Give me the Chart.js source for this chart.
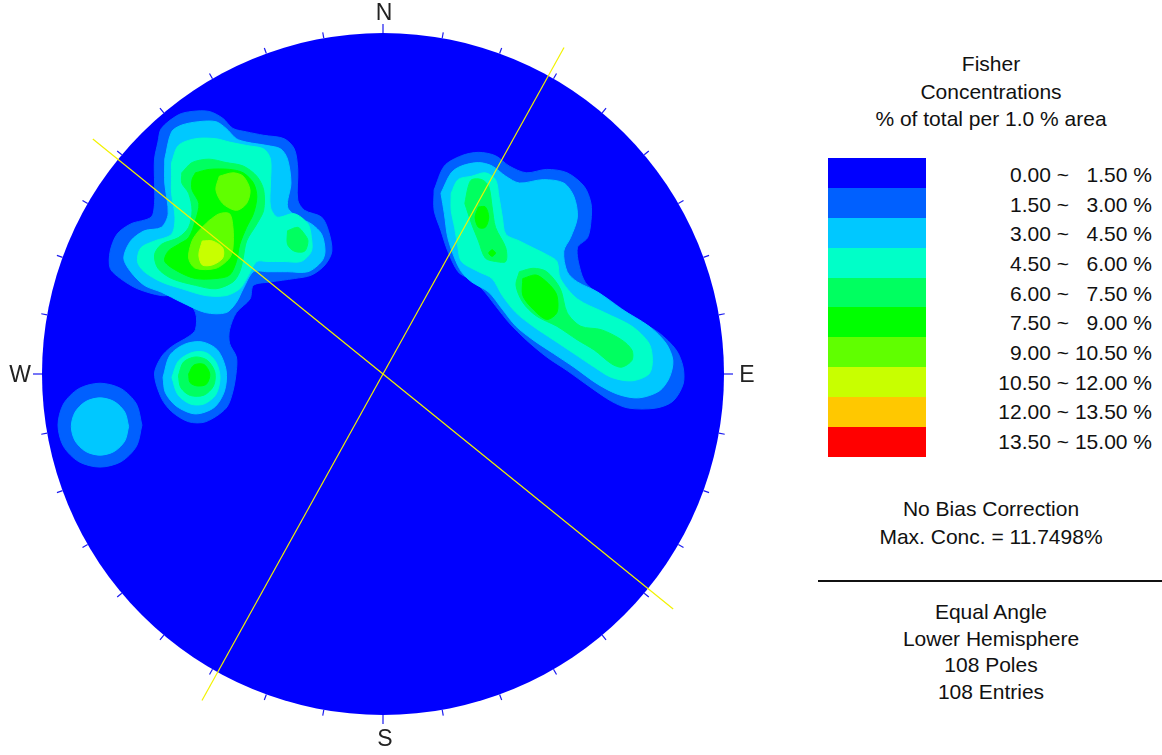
<!DOCTYPE html>
<html>
<head>
<meta charset="utf-8">
<script src="https://cdn.jsdelivr.net/npm/chart.js@4.4.1/dist/chart.umd.min.js"></script>
<style>
  html, body { margin: 0; padding: 0; background: #fff; }
  body {
    width: 1162px; height: 755px; position: relative; overflow: hidden;
    font-family: "Liberation Sans", Arial, sans-serif; font-size: 21px; color: #111;
  }
  #net { position: absolute; left: 0; top: 0; }
  .txt {
    position: absolute; left: 820px; width: 342px; height: 27px; line-height: 27px;
    text-align: center; white-space: pre;
  }
  #bar { position: absolute; left: 828px; top: 158px; width: 98px; }
  .lbl { position: absolute; height: 27px; line-height: 27px; text-align: right; white-space: pre; }
  #rule { position: absolute; left: 818px; top: 580px; width: 344px; height: 2px; background: #111; }
</style>
</head>
<body>
<canvas id="net" width="770" height="755"></canvas>

<div class="txt" style="top:49.5px">Fisher</div>
<div class="txt" style="top:78px">Concentrations</div>
<div class="txt" style="top:105px">% of total per 1.0 % area</div>
<div id="bar"></div>
<div id="labels"></div>
<div class="txt" style="top:495px">No Bias Correction</div>
<div class="txt" style="top:522.5px">Max. Conc. = 11.7498%</div>
<div id="rule"></div>
<div class="txt" style="top:598px">Equal Angle</div>
<div class="txt" style="top:624.5px">Lower Hemisphere</div>
<div class="txt" style="top:651px">108 Poles</div>
<div class="txt" style="top:677.5px">108 Entries</div>

<script>
// contour intervals (% of total per 1% area)
const levelLows = [0, 1.5, 3, 4.5, 6, 7.5, 9, 10.5, 12, 13.5];
const levelHighs = [1.5, 3, 4.5, 6, 7.5, 9, 10.5, 12, 13.5, 15];
const levelColors = ['#0000FF', '#0060FF', '#00C8FF', '#00FFC8', '#00FF60',
                     '#00FF00', '#60FF00', '#C8FF00', '#FFC800', '#FF0000'];

// vertical planes drawn as great circles (strike azimuths)
const planeStrikes = [309, 29];

// contour outlines, net coordinates (x east, y north, primitive radius = 100)
const nwBand1 = [[-66,68],[-65,72],[-60,76],[-56,77],[-51,77],[-47,75],[-44,72],[-40,71],[-35,70],[-29,69],[-26,66],[-25,60],[-25,51],[-23,48],[-18,46],[-16,42],[-15,36],[-17,32],[-21,29],[-26,28],[-33,27],[-38,26],[-39,22],[-43,18],[-45,13],[-45,9],[-43,5],[-43,1],[-44,-5],[-46,-10],[-52,-14],[-57,-14],[-62,-11],[-65,-7],[-67,0],[-65,5],[-62,8],[-57,11],[-55,13],[-55,18],[-59,23],[-65,23],[-72,25],[-77,28],[-80,31],[-80,36],[-78,41],[-74,44],[-68,46],[-67,50],[-67,56],[-67,63]];
const nwBand2 = [[-64,63],[-62,71],[-59,73],[-54,74],[-49,74],[-46,72],[-43,69],[-40,68],[-34,67],[-30,66],[-28,63],[-27,56],[-28,49],[-25,46],[-21,44],[-18,41],[-17,36],[-18,33],[-22,30],[-28,30],[-34,30],[-38,30],[-41,25],[-43,21],[-46,18],[-52,18],[-59,21],[-65,24],[-70,26],[-74,30],[-76,34],[-74,39],[-70,42],[-65,43],[-63,47],[-64,56]];
const nwBand3 = [[-62,62],[-60,67],[-55,69],[-49,69],[-45,68],[-40,67],[-35,66],[-33,63],[-33,56],[-33,49],[-31,46],[-26,47],[-22,44],[-21,40],[-21,36],[-24,33],[-29,33],[-34,33],[-37,33],[-40,28],[-42,25],[-46,23],[-52,23],[-59,25],[-65,27],[-70,30],[-72,33],[-71,37],[-67,39],[-62,41],[-61,46],[-62,53],[-62,58]];
const nwBand4 = [[-59,59],[-56,62],[-51,63],[-46,62],[-41,61],[-37,58],[-35,54],[-35,48],[-37,44],[-40,39],[-41,34],[-42,30],[-44,27],[-49,25],[-55,26],[-62,28],[-66,31],[-67,35],[-65,38],[-60,40],[-57,43],[-56,48],[-57,53],[-59,56]];
const nwLobeBand4 = [[-28,42],[-25,43],[-23,41],[-22,39],[-23,36],[-26,36],[-28,38]];
const nwBand5 = [[-55,59],[-51,60],[-45,60],[-41,59],[-38,56],[-37,52],[-38,47],[-40,43],[-42,38],[-43,33],[-45,29],[-49,28],[-55,28],[-60,30],[-64,33],[-63,36],[-60,38],[-57,40],[-55,45],[-54,50],[-56,54],[-56,57]];
const nwUpperBand6 = [[-48,58],[-44,59],[-41,58],[-39,54],[-40,50],[-43,48],[-47,50],[-49,54]];
const nwLowerBand6 = [[-51,45],[-48,47],[-45,47],[-44,43],[-44,37],[-45,34],[-49,31],[-55,31],[-57,34],[-56,39],[-54,42]];
const nwBand7 = [[-53,39],[-50,39],[-47,37],[-47,34],[-50,32],[-53,32],[-54,35]];

const westBand2 = [[-64.5,-1],[-62.5,5.5],[-58,8.8],[-53,9.4],[-48.5,7],[-46,1],[-46.5,-5],[-49.5,-9.8],[-55,-11.7],[-60.5,-9.5],[-63.8,-5.5]];
const westBand3 = [[-61.9,-1],[-60,3.8],[-56,6.3],[-52,6.3],[-49,3.5],[-47.8,-1],[-49,-6],[-52.5,-8.8],[-56.5,-8.8],[-60.2,-6]];
const westBand4 = [[-60,-0.5],[-58.5,3.5],[-55,5],[-51.5,4],[-49.3,0.5],[-49.7,-3.5],[-52.5,-6.2],[-56.5,-6.3],[-59.3,-4]];
const westBand5 = [[-57,0],[-55.5,2.6],[-52.5,2.8],[-50.8,0],[-51.8,-3],[-54.5,-3.5],[-56.6,-2.5]];

const farWestBand1 = [[-70.7,-15],[-72.3,-8.8],[-76.8,-4.3],[-83,-2.7],[-89.2,-4.3],[-93.7,-8.8],[-95.3,-15],[-93.7,-21.2],[-89.2,-25.7],[-83,-27.3],[-76.8,-25.7],[-72.3,-21.2]];
const farWestBand2 = [[-74.6,-15.4],[-75.7,-11.2],[-78.8,-8.1],[-83,-7],[-87.2,-8.1],[-90.3,-11.2],[-91.4,-15.4],[-90.3,-19.6],[-87.2,-22.7],[-83,-23.8],[-78.8,-22.7],[-75.7,-19.6]];

const neBand1 = [[15,54],[18,61],[23,64],[28,65],[33,64],[37,61],[42,59],[48,60],[54,59],[59,55],[61,50],[61,45],[60,40],[57,37],[58,30],[60,26],[66,22],[73,17],[81,12],[86,7],[88,2],[88,-3],[85,-8],[80,-10],[72,-10],[67,-8],[61,-4],[54,1],[48,5],[42,10],[37,15],[33,20],[29,25],[25,28],[22,30],[19,36],[17,42],[15,48]];
const neBand2 = [[17,53],[20,59],[23,61],[28,62],[32,61],[36,58],[40,56],[47,57],[53,56],[56,52],[57,46],[55,40],[53,36],[54,30],[57,27],[63,24],[70,19],[78,14],[83,9],[85,4],[84,-1],[81,-5],[75,-7],[69,-6],[63,-3],[56,2],[50,6],[44,10],[39,14],[35,19],[31,24],[26,27],[23,30],[21,34],[19,40],[18,47]];
const neBand3 = [[20,53],[22,57],[26,58],[30,59],[33,57],[34,52],[35,46],[36,41],[40,39],[44,37],[48,35],[51,33],[52,28],[57,22],[65,18],[73,14],[78,9],[79,4],[78,0],[73,-2],[67,-1],[62,2],[56,6],[50,10],[44,14],[39,18],[35,23],[32,28],[28,30],[23,33],[22,37],[21,43],[20,48]];
const neUpperBand4 = [[24,50],[25,55],[26,57],[29,57],[31,55],[32,49],[33,43],[36,37],[36,33],[33,33],[30,34],[28,39],[26,44]];
const neLowerBand4 = [[40,30],[44,31],[48,30],[52,25],[54,18],[58,14],[64,13],[70,10],[73,7],[73,4],[70,2],[67,3],[62,7],[57,10],[51,14],[45,17],[41,21],[39,26]];
const neUpperBand5 = [[28,49],[30,49],[31,46],[30,43],[28,43],[27,46]];
const neDotBand5 = [[32,36.5],[33,35.5],[32,34.5],[31,35.5]];
const neLowerBand5 = [[41,28],[45,29],[49,26],[51,23],[51,18],[48,16],[44,19],[41,23]];

// [contour level index, outline]
const contourRings = [
  [1, nwBand1], [1, farWestBand1], [1, neBand1],
  [2, nwBand2], [2, westBand2], [2, farWestBand2], [2, neBand2],
  [3, nwBand3], [3, westBand3], [3, neBand3],
  [4, nwBand4], [4, nwLobeBand4], [4, westBand4], [4, neUpperBand4], [4, neLowerBand4],
  [5, nwBand5], [5, westBand5], [5, neUpperBand5], [5, neDotBand5], [5, neLowerBand5],
  [6, nwUpperBand6], [6, nwLowerBand6],
  [7, nwBand7],
];

const NET_RADIUS = 100;
const NET_CENTER_PX = [383, 374];
const NET_RADIUS_PX = 341;
const PLANE_REACH = 109.5;

const canvas = document.getElementById('net');
const unitPx = NET_RADIUS_PX / NET_RADIUS;

function ringDataset([level, pts]) {
  const data = pts.map(([x, y]) => ({ x, y }));
  data.push({ x: pts[0][0], y: pts[0][1] });
  return {
    data,
    showLine: true,
    fill: 'shape',
    backgroundColor: levelColors[level],
    borderColor: levelColors[level],
    borderWidth: 1,
    pointRadius: 0,
    tension: 0.3,
    order: 20 - level,
  };
}

function planeDataset(strike) {
  const a = strike * Math.PI / 180;
  const dx = PLANE_REACH * Math.sin(a);
  const dy = PLANE_REACH * Math.cos(a);
  return {
    data: [{ x: dx, y: dy }, { x: -dx, y: -dy }],
    showLine: true,
    fill: false,
    borderColor: '#F2F200',
    borderWidth: 1.2,
    pointRadius: 0,
    order: -1,
  };
}

// primitive circle, azimuth ticks and compass letters
const netFrame = {
  id: 'netFrame',
  beforeDatasetsDraw(chart) {
    const { ctx, scales: { x, y } } = chart;
    const cx = x.getPixelForValue(0);
    const cy = y.getPixelForValue(0);
    const r = x.getPixelForValue(NET_RADIUS) - cx;
    ctx.save();
    ctx.beginPath();
    ctx.arc(cx, cy, r, 0, Math.PI * 2);
    ctx.fillStyle = levelColors[0];
    ctx.fill();
    ctx.restore();
  },
  afterDatasetsDraw(chart) {
    const { ctx, scales: { x, y } } = chart;
    const cx = x.getPixelForValue(0);
    const cy = y.getPixelForValue(0);
    const r = x.getPixelForValue(NET_RADIUS) - cx;
    ctx.save();
    ctx.strokeStyle = '#1A1AF0';
    ctx.lineWidth = 1.2;
    for (let az = 0; az < 360; az += 10) {
      const a = az * Math.PI / 180;
      const len = az % 90 === 0 ? 9 : 6;
      ctx.beginPath();
      ctx.moveTo(cx + r * Math.sin(a), cy - r * Math.cos(a));
      ctx.lineTo(cx + (r + len) * Math.sin(a), cy - (r + len) * Math.cos(a));
      ctx.stroke();
    }
    ctx.fillStyle = '#222';
    ctx.font = '23px "Liberation Sans", Arial, sans-serif';
    ctx.textAlign = 'center';
    ctx.textBaseline = 'middle';
    ctx.fillText('N', cx + 1, cy - r - 19);
    ctx.fillText('S', cx + 2, cy + r + 25);
    ctx.fillText('E', cx + r + 23, cy + 2);
    ctx.fillText('W', cx - r - 22, cy + 2);
    ctx.restore();
  },
};

new Chart(canvas, {
  type: 'scatter',
  data: {
    datasets: [...contourRings.map(ringDataset), ...planeStrikes.map(planeDataset)],
  },
  options: {
    responsive: false,
    animation: false,
    devicePixelRatio: 1,
    layout: { padding: 0 },
    plugins: { legend: { display: false }, tooltip: { enabled: false } },
    scales: {
      x: { type: 'linear', display: false, min: -NET_CENTER_PX[0] / unitPx, max: (canvas.width - NET_CENTER_PX[0]) / unitPx },
      y: { type: 'linear', display: false, min: -(canvas.height - NET_CENTER_PX[1]) / unitPx, max: NET_CENTER_PX[1] / unitPx },
    },
  },
  plugins: [netFrame],
});

// colour key
const bar = document.getElementById('bar');
const labels = document.getElementById('labels');
levelColors.forEach((color, i) => {
  const band = document.createElement('div');
  band.style.height = '29.9px';
  band.style.background = color;
  bar.appendChild(band);

  const top = 174.5 + 29.65 * i - 13.5;
  const low = document.createElement('div');
  low.className = 'lbl';
  low.style.cssText = `left:898px;width:171px;top:${top}px`;
  low.textContent = `${levelLows[i].toFixed(2)} ~`;
  const high = document.createElement('div');
  high.className = 'lbl';
  high.style.cssText = `left:1072px;width:80px;top:${top}px`;
  high.textContent = `${levelHighs[i].toFixed(2)} %`;
  labels.appendChild(low);
  labels.appendChild(high);
});
</script>
</body>
</html>
